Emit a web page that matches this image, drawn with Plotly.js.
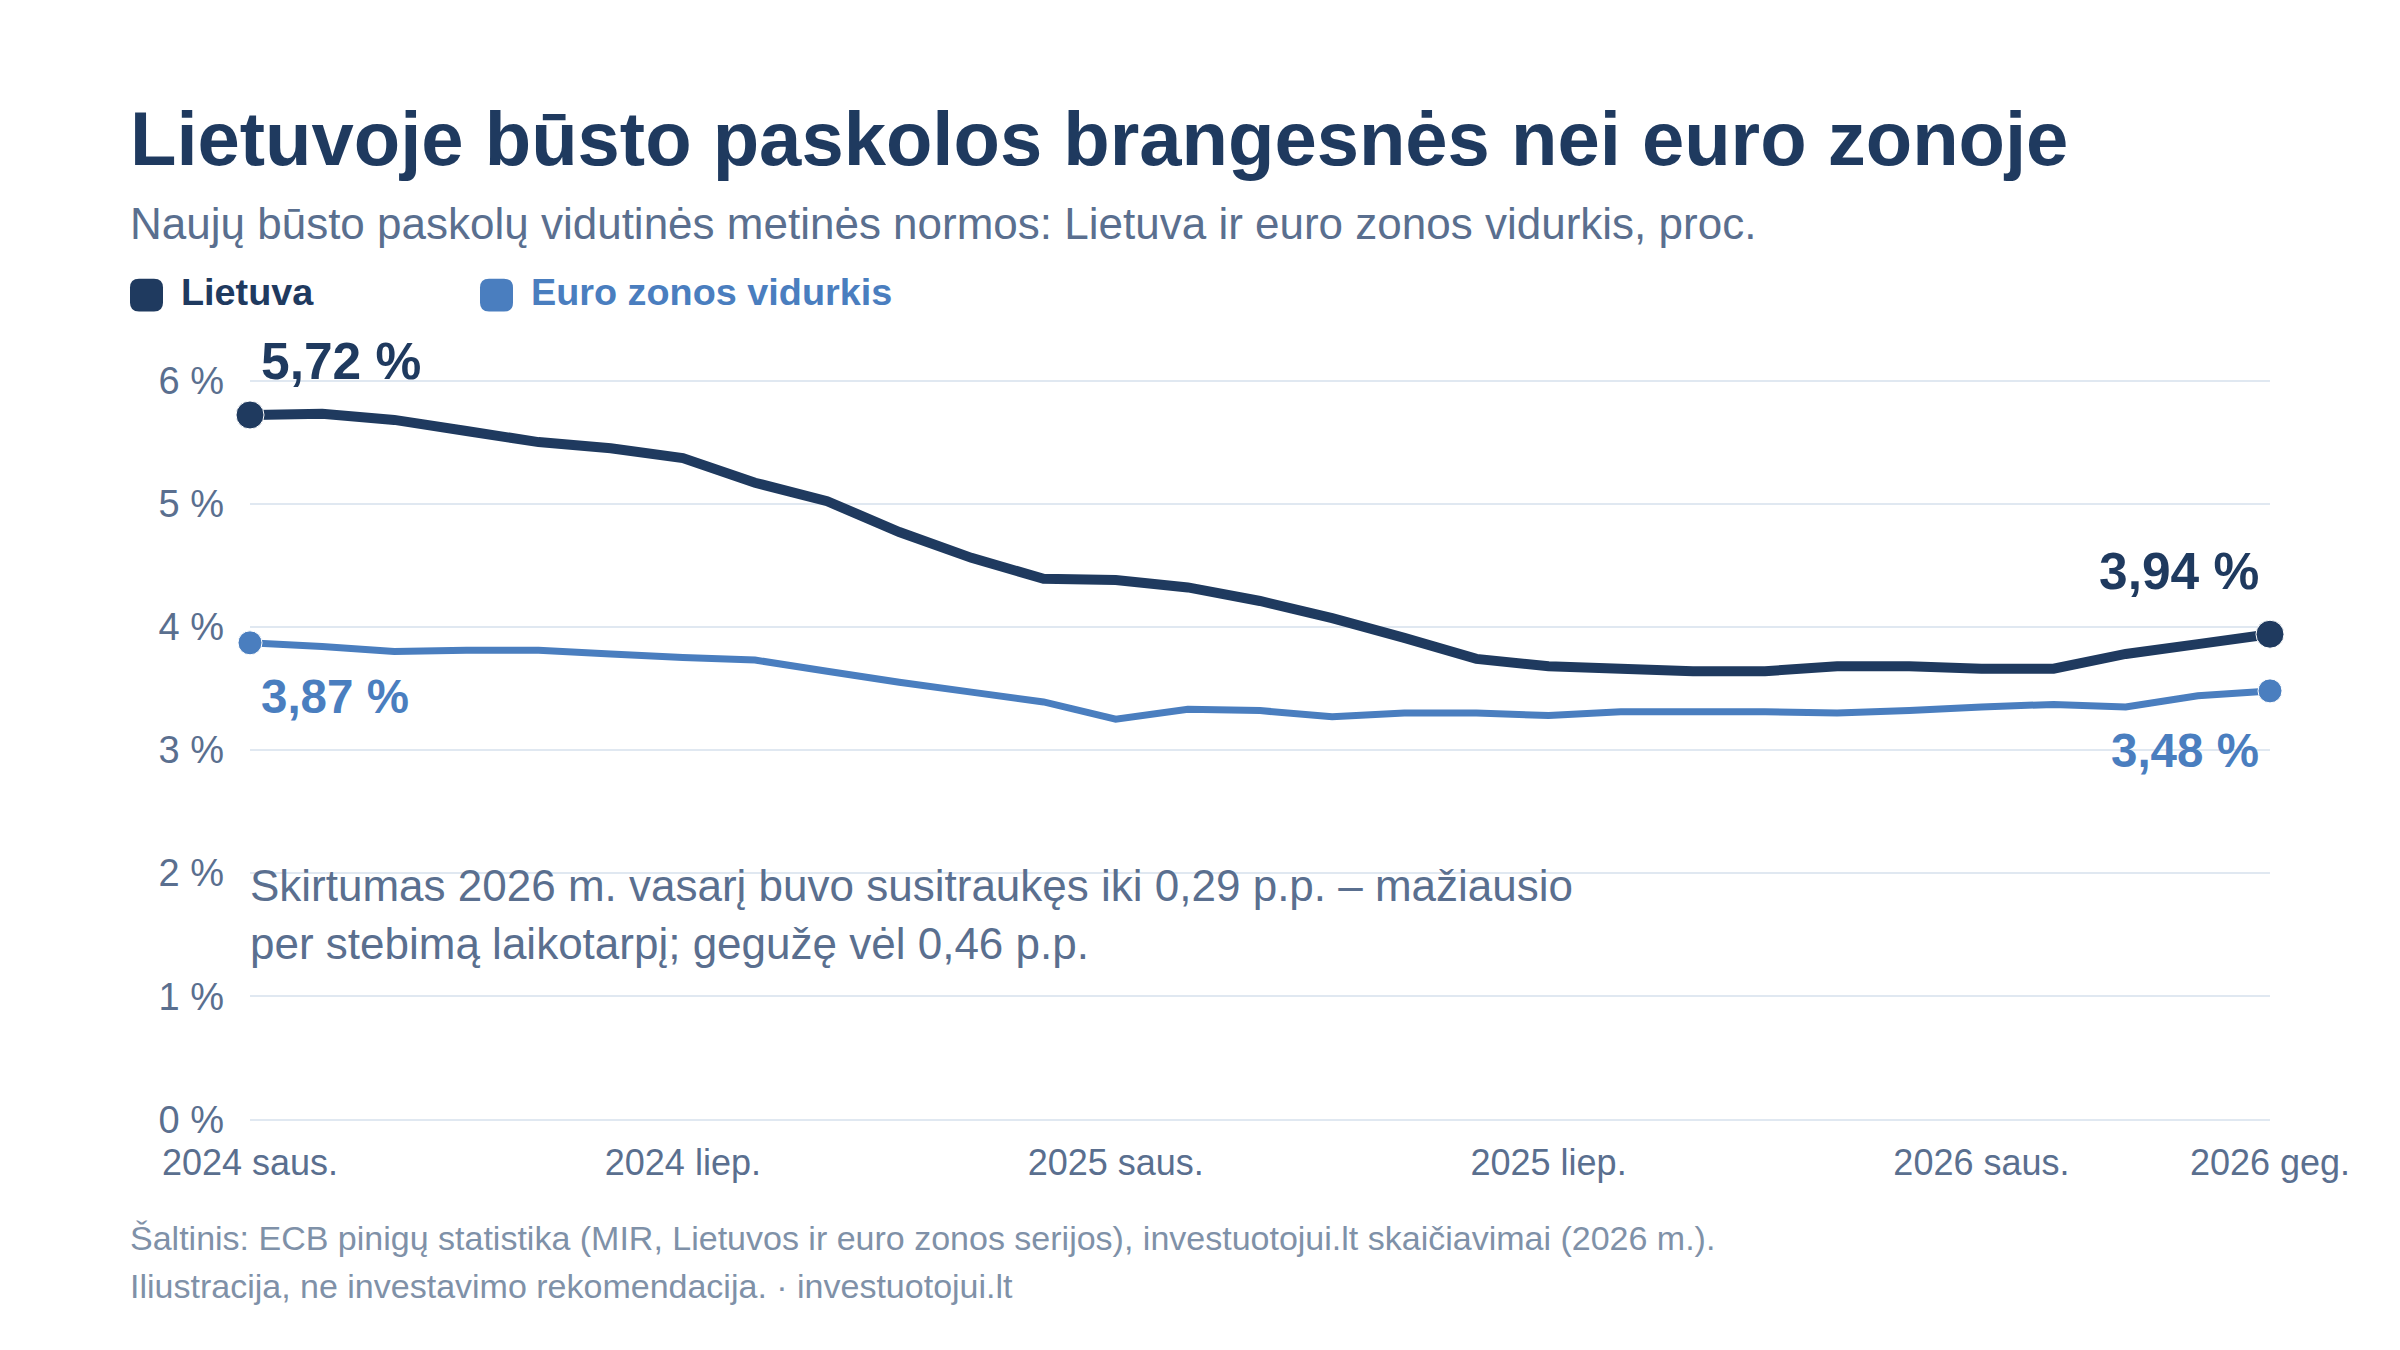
<!DOCTYPE html>
<html><head><meta charset="utf-8">
<script src="https://cdn.plot.ly/plotly-3.0.1.min.js"></script>
<style>html,body{margin:0;padding:0;background:#fff}#c{width:2400px;height:1350px}</style>
</head><body><div id="c"></div>
<script>
const months = ["2024-01","2024-02","2024-03","2024-04","2024-05","2024-06","2024-07","2024-08","2024-09","2024-10","2024-11","2024-12",
"2025-01","2025-02","2025-03","2025-04","2025-05","2025-06","2025-07","2025-08","2025-09","2025-10","2025-11","2025-12",
"2026-01","2026-02","2026-03","2026-04","2026-05"];
const lietuva = [5.72,5.73,5.68,5.59,5.50,5.45,5.37,5.17,5.02,4.77,4.56,4.39,4.38,4.32,4.21,4.07,3.91,3.74,3.68,3.66,3.64,3.64,3.68,3.68,3.66,3.66,3.78,3.86,3.94];
const euro = [3.87,3.84,3.80,3.81,3.81,3.78,3.75,3.73,3.64,3.55,3.47,3.39,3.25,3.33,3.32,3.27,3.30,3.30,3.28,3.31,3.31,3.31,3.30,3.32,3.35,3.37,3.35,3.44,3.48];
const xTickVals = ["2024-01","2024-07","2025-01","2025-07","2026-01","2026-05"];
const xTickText = ["2024 saus.","2024 liep.","2025 saus.","2025 liep.","2026 saus.","2026 geg."];
const yTickVals = [0,1,2,3,4,5,6];
const yTickText = ["0 %","1 %","2 %","3 %","4 %","5 %","6 %"];

const DARK="#1f3a5f", BLUE="#4a7ebf", GREY="#5a6f8f", SRC="#7f91a8", GRID="#e0e8f1";
const FONT='"Liberation Sans", Arial, sans-serif';
const W=2400,H=1350;
const PAD=2.5;                 // plot area is slightly larger so the 0 % and 6 % gridlines are kept
const L=250,R=2270,T=380-PAD,B=1120+PAD;
const fx=v=>(v-L)/(R-L), fy=v=>(B-v)/(B-T);
const endSizes=(arr,s)=>arr.map((v,i)=>(i===0||i===arr.length-1)?s:0);

const traces=[
 {x:months,y:euro,name:"Euro zonos vidurkis",mode:"lines+markers",line:{color:BLUE,width:7,simplify:false},marker:{color:BLUE,size:endSizes(euro,24),opacity:1},cliponaxis:false,showlegend:false,hoverinfo:"skip"},
 {x:months,y:lietuva,name:"Lietuva",mode:"lines+markers",line:{color:DARK,width:10,simplify:false},marker:{color:DARK,size:endSizes(lietuva,28),opacity:1},cliponaxis:false,showlegend:false,hoverinfo:"skip"}
];
const px=(x,y,text,size,color,bold)=>({xref:"paper",yref:"paper",
  x:fx(x),y:fy(y),text:bold?`<b>${text}</b>`:text,showarrow:false,xanchor:"left",yanchor:"middle",
  font:{family:FONT,size:size,color:color},borderpad:0,borderwidth:0});
const dataLabel=(i,arr,txt,color,size,xa,xs,ys)=>({xref:"x",yref:"y",x:months[i],y:arr[i],text:`<b>${txt}</b>`,showarrow:false,
  xanchor:xa,yanchor:"middle",xshift:xs,yshift:ys,font:{family:FONT,size:size,color:color}});
const annotations=[
 px(130,138,"Lietuvoje būsto paskolos brangesnės nei euro zonoje",76,DARK,true),
 px(130,223,"Naujų būsto paskolų vidutinės metinės normos: Lietuva ir euro zonos vidurkis, proc.",44,GREY,false),
 px(181,291,"Lietuva",37.8,DARK,true),
 px(531,291,"Euro zonos vidurkis",37.8,BLUE,true),
 px(250,885.5,"Skirtumas 2026 m. vasarį buvo susitraukęs iki 0,29 p.p. – mažiausio",44,GREY,false),
 px(250,943.5,"per stebimą laikotarpį; gegužę vėl 0,46 p.p.",44,GREY,false),
 px(130,1239,"Šaltinis: ECB pinigų statistika (MIR, Lietuvos ir euro zonos serijos), investuotojui.lt skaičiavimai (2026 m.).",34,SRC,false),
 px(130,1287,"Iliustracija, ne investavimo rekomendacija. · investuotojui.lt",34,SRC,false),
 dataLabel(0,lietuva,"5,72 %",DARK,51.5,"left",9,54),
 dataLabel(0,euro,"3,87 %",BLUE,47.5,"left",9,-54),
 dataLabel(28,lietuva,"3,94 %",DARK,51.5,"right",-9,63),
 dataLabel(28,euro,"3,48 %",BLUE,47.5,"right",-9,-60)
];
const swatch=(x0,color)=>{const y0=278,s=33,r=9,x1=x0+s,y1=y0+s;
 return {type:"path",xref:"paper",yref:"paper",fillcolor:color,line:{width:0},
  path:`M${fx(x0+r)},${fy(y0)} L${fx(x1-r)},${fy(y0)} Q${fx(x1)},${fy(y0)} ${fx(x1)},${fy(y0+r)} L${fx(x1)},${fy(y1-r)} Q${fx(x1)},${fy(y1)} ${fx(x1-r)},${fy(y1)} L${fx(x0+r)},${fy(y1)} Q${fx(x0)},${fy(y1)} ${fx(x0)},${fy(y1-r)} L${fx(x0)},${fy(y0+r)} Q${fx(x0)},${fy(y0)} ${fx(x0+r)},${fy(y0)} Z`};};
const yPad=PAD/(740/6);
const layout={width:W,height:H,paper_bgcolor:"#fff",plot_bgcolor:"#fff",showlegend:false,
 margin:{l:L,r:W-R,t:T,b:H-B,autoexpand:false},font:{family:FONT,color:GREY},
 xaxis:{type:"category",categoryorder:"array",categoryarray:months,range:[0,28],tickmode:"array",tickvals:xTickVals,ticktext:xTickText,
  showgrid:false,zeroline:false,showline:false,ticks:"",tickangle:0,tickfont:{family:FONT,size:36,color:GREY},ticklabelstandoff:16},
 yaxis:{range:[-yPad,6+yPad],tickmode:"array",tickvals:yTickVals,ticktext:yTickText,showgrid:true,gridcolor:GRID,gridwidth:2,zeroline:false,showline:false,ticks:"",
  tickfont:{family:FONT,size:38,color:GREY},ticklabelstandoff:25},
 annotations:annotations,shapes:[swatch(130,DARK),swatch(480,BLUE)]};
Plotly.newPlot("c",traces,layout,{staticPlot:true,displayModeBar:false});
</script></body></html>
